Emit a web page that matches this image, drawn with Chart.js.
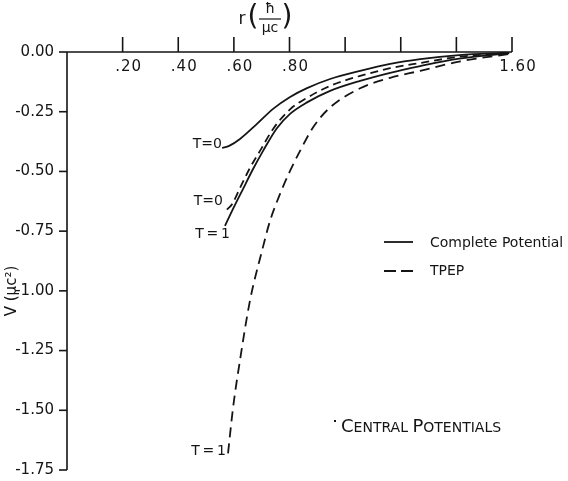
<!DOCTYPE html>
<html lang="en">
<head>
<meta charset="UTF-8">
<title>Central Potentials</title>
<script src="https://cdn.jsdelivr.net/npm/chart.js"></script>
<style>
    body { margin: 0; background: #fff; }
    #wrap { width: 568px; height: 481px; }
</style>
</head>
<body>
<div id="wrap"><canvas id="chartCanvas" width="568" height="481"></canvas></div>
<script>
// axis ticks
const xTicks = [0.2, 0.4, 0.6, 0.8, 1.0, 1.2, 1.4, 1.6];
const xTickLabels = ['.20', '.40', '.60', '.80', '', '', '', '1.60'];
const yTicks = [0, -0.25, -0.5, -0.75, -1.0, -1.25, -1.5, -1.75];
const yTickLabels = ['0.00', '-0.25', '-0.50', '-0.75', '-1.00', '-1.25', '-1.50', '-1.75'];

// complete potential, T = 0
const completeT0R = [0.558, 0.583, 0.622, 0.683, 0.741, 0.802, 0.863, 0.946, 1.054, 1.162, 1.27, 1.41, 1.59];
const completeT0V = [-0.402, -0.393, -0.364, -0.301, -0.238, -0.188, -0.151, -0.113, -0.079, -0.050, -0.030, -0.013, -0.003];
// TPEP, T = 0
const tpepT0R = [0.575, 0.594, 0.622, 0.658, 0.694, 0.741, 0.802, 0.863, 0.946, 1.054, 1.162, 1.27, 1.41, 1.59];
const tpepT0V = [-0.66, -0.636, -0.569, -0.485, -0.414, -0.322, -0.240, -0.192, -0.142, -0.100, -0.068, -0.046, -0.020, -0.004];
// complete potential, T = 1
const completeT1R = [0.568, 0.597, 0.633, 0.669, 0.705, 0.754, 0.802, 0.863, 0.946, 1.054, 1.162, 1.27, 1.41, 1.59];
const completeT1V = [-0.728, -0.657, -0.573, -0.490, -0.414, -0.320, -0.259, -0.211, -0.163, -0.121, -0.087, -0.059, -0.028, -0.005];
// TPEP, T = 1
const tpepT1R = [0.579, 0.597, 0.622, 0.658, 0.701, 0.730, 0.766, 0.802, 0.838, 0.885, 0.946, 1.054, 1.162, 1.27, 1.41, 1.59];
const tpepT1V = [-1.68, -1.49, -1.29, -1.04, -0.833, -0.707, -0.594, -0.498, -0.414, -0.315, -0.232, -0.152, -0.108, -0.079, -0.040, -0.008];

const ink = '#151515';
const font = '"DejaVu Sans", sans-serif';

function pts(rs, vs) {
    return rs.map((r, i) => ({ x: r, y: vs[i] }));
}

function curve(rs, vs, dash) {
    return {
        data: pts(rs, vs),
        showLine: true,
        borderColor: ink,
        borderWidth: 1.8,
        borderDash: dash,
        pointRadius: 0,
        cubicInterpolationMode: 'monotone',
        fill: false
    };
}

const axesPlugin = {
    id: 'oldAxes',
    afterDraw(chart) {
        const ctx = chart.ctx;
        const xs = chart.scales.x;
        const ys = chart.scales.y;
        const y0 = ys.getPixelForValue(0);
        const x0 = xs.getPixelForValue(0);
        ctx.save();
        ctx.strokeStyle = ink;
        ctx.fillStyle = ink;
        ctx.lineWidth = 1.6;

        // axis lines
        ctx.beginPath();
        ctx.moveTo(x0, y0);
        ctx.lineTo(xs.getPixelForValue(1.6), y0);
        ctx.moveTo(x0, y0);
        ctx.lineTo(x0, ys.getPixelForValue(-1.75));
        ctx.stroke();

        // x ticks go up, labels sit under the line
        ctx.font = '15px ' + font;
        ctx.letterSpacing = '1px';
        ctx.textAlign = 'center';
        ctx.textBaseline = 'middle';
        xTicks.forEach((v, i) => {
            const px = xs.getPixelForValue(v);
            ctx.beginPath();
            ctx.moveTo(px, y0);
            ctx.lineTo(px, y0 - 15);
            ctx.stroke();
            if (xTickLabels[i]) ctx.fillText(xTickLabels[i], px + 6, y0 + 15);
        });
        ctx.letterSpacing = '0px';

        // y ticks go left
        ctx.textAlign = 'right';
        ctx.font = '15px ' + font;
        yTicks.forEach((v, i) => {
            const py = ys.getPixelForValue(v);
            ctx.beginPath();
            ctx.moveTo(x0, py);
            ctx.lineTo(x0 - 8, py);
            ctx.stroke();
            ctx.fillText(yTickLabels[i], x0 - 13, py);
        });

        // x title: r (h-bar / mu c)
        ctx.textAlign = 'center';
        ctx.font = '17px ' + font;
        ctx.fillText('r', 242, 20);
        ctx.font = '28px ' + font;
        ctx.fillText('(', 253, 18);
        ctx.fillText(')', 287, 18);
        ctx.font = '14px ' + font;
        ctx.fillText('\u0127', 270, 9);
        ctx.fillText('\u03bcc', 270, 28);
        ctx.lineWidth = 1.2;
        ctx.beginPath();
        ctx.moveTo(259, 19);
        ctx.lineTo(281, 19);
        ctx.stroke();

        // y title
        ctx.save();
        ctx.translate(12, 291);
        ctx.rotate(-Math.PI / 2);
        ctx.font = '15px ' + font;
        ctx.fillText('V (\u03bcc\u00b2)', 0, 0);
        ctx.restore();

        // curve labels
        ctx.font = '14px ' + font;
        ctx.textAlign = 'right';
        ctx.fillText('T=0', 222, 144);
        ctx.fillText('T=0', 223, 201);
        ctx.fillText('T\u2009=\u20091', 230, 234);
        ctx.fillText('T\u2009=\u20091', 226, 451);

        // legend
        ctx.lineWidth = 1.8;
        ctx.beginPath();
        ctx.moveTo(384, 242);
        ctx.lineTo(413, 242);
        ctx.stroke();
        ctx.setLineDash([12, 5]);
        ctx.beginPath();
        ctx.moveTo(384, 271);
        ctx.lineTo(413, 271);
        ctx.stroke();
        ctx.setLineDash([]);
        ctx.textAlign = 'left';
        ctx.font = '14px ' + font;
        ctx.fillText('Complete Potential', 430, 243);
        ctx.fillText('TPEP', 430, 271);

        // caption in small caps
        ctx.fillRect(334, 420, 2, 2);
        let cx = 341;
        const parts = [['C', 18], ['ENTRAL ', 14], ['P', 18], ['OTENTIALS', 14]];
        ctx.textBaseline = 'alphabetic';
        parts.forEach(([s, size]) => {
            ctx.font = size + 'px ' + font;
            ctx.fillText(s, cx, 432);
            cx += ctx.measureText(s).width;
        });
        ctx.restore();
    }
};

new Chart(document.getElementById('chartCanvas'), {
    type: 'scatter',
    data: {
        datasets: [
            curve(completeT0R, completeT0V, []),
            curve(tpepT0R, tpepT0V, [8, 5]),
            curve(completeT1R, completeT1V, []),
            curve(tpepT1R, tpepT1V, [10, 6])
        ]
    },
    options: {
        responsive: false,
        animation: false,
        layout: { padding: { left: 67, right: 56, top: 52, bottom: 11 } },
        plugins: { legend: { display: false }, tooltip: { enabled: false } },
        scales: {
            x: { type: 'linear', min: 0, max: 1.6, display: false },
            y: { type: 'linear', min: -1.75, max: 0, display: false }
        }
    },
    plugins: [axesPlugin]
});
</script>
</body>
</html>
